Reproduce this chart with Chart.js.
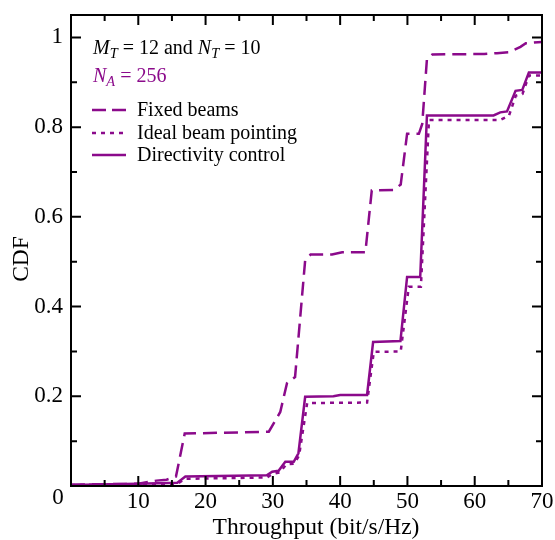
<!DOCTYPE html>
<html>
<head>
<meta charset="utf-8">
<script src="https://cdn.jsdelivr.net/npm/chart.js@4"></script>
<style>
  body { margin: 0; background: #fff; }
  canvas { display: block; }
</style>
</head>
<body>
<canvas id="cdfChart" width="555" height="540"></canvas>
<script>
// values
var fixedX = [0, 10, 12.7, 14.2, 15.6, 16.9, 29.4, 31.1, 32.1, 33.3, 34.8, 35.6, 38.8, 40.3, 43.75, 44.7, 48.0, 49.0, 49.95, 51.7, 52.2, 52.9, 53.7, 61.4, 63.3, 65.1, 66.8, 67.6, 70];
var fixedY = [0.003, 0.005, 0.012, 0.014, 0.021, 0.117, 0.121, 0.165, 0.229, 0.243, 0.503, 0.516, 0.516, 0.521, 0.521, 0.659, 0.660, 0.672, 0.785, 0.785, 0.807, 0.952, 0.962, 0.963, 0.965, 0.967, 0.979, 0.987, 0.990];

var idealX = [0, 10, 15.8, 17, 29.1, 30, 31, 32, 33.2, 33.9, 35.1, 44.0, 45.0, 49.0, 50.2, 52.0, 53.2, 63.8, 65.1, 66.1, 67.1, 68.05, 70];
var idealY = [0.002, 0.004, 0.005, 0.016, 0.019, 0.027, 0.030, 0.048, 0.050, 0.068, 0.185, 0.186, 0.299, 0.300, 0.444, 0.444, 0.816, 0.816, 0.826, 0.870, 0.874, 0.915, 0.915];

var directX = [0, 10, 15.8, 17, 29.1, 29.9, 30.85, 31.85, 33.1, 33.8, 34.8, 39.0, 40.0, 44.0, 44.9, 48.96, 49.95, 51.9, 52.9, 62.8, 63.8, 64.8, 66.07, 67.07, 68.05, 70];
var directY = [0.002, 0.005, 0.007, 0.021, 0.024, 0.032, 0.034, 0.054, 0.054, 0.073, 0.199, 0.200, 0.203, 0.203, 0.321, 0.323, 0.466, 0.466, 0.826, 0.826, 0.833, 0.835, 0.881, 0.883, 0.922, 0.922];

var seriesNames = ["Fixed beams", "Ideal beam pointing", "Directivity control"];
var xTicks = [0, 10, 20, 30, 40, 50, 60, 70];
var yTicks = [0.2, 0.4, 0.6, 0.8, 1];

var purple = "#8b0a8b";
var serif = "'Liberation Serif', 'Times New Roman', serif";

function toPoints(xs, ys) {
    var pts = [];
    for (var i = 0; i < xs.length; i++) pts.push({ x: xs[i], y: ys[i] });
    return pts;
}

// draws a run of text pieces, some italic / subscript
function drawRuns(ctx, x, y, runs, size, color) {
    ctx.fillStyle = color;
    ctx.textBaseline = "alphabetic";
    ctx.textAlign = "left";
    runs.forEach(function (r) {
        var s = r.sub ? size * 0.72 : size;
        ctx.font = (r.it ? "italic " : "") + s + "px " + serif;
        ctx.fillText(r.t, x, y + (r.sub ? size * 0.22 : 0));
        x += ctx.measureText(r.t).width;
    });
}

var framePlugin = {
    id: "frame",
    afterDraw: function (chart) {
        var ctx = chart.ctx;
        var a = chart.chartArea;
        var xs = chart.scales.x, ys = chart.scales.y;
        ctx.save();
        ctx.strokeStyle = "#000";
        ctx.lineWidth = 2;
        ctx.setLineDash([]);
        ctx.strokeRect(a.left, a.top, a.right - a.left, a.bottom - a.top);

        // inward ticks on all four sides
        ctx.beginPath();
        for (var v = 0; v <= 70; v += 5) {
            var px = xs.getPixelForValue(v);
            var len = (v % 10 === 0) ? 10 : 6;
            ctx.moveTo(px, a.bottom); ctx.lineTo(px, a.bottom - len);
            ctx.moveTo(px, a.top); ctx.lineTo(px, a.top + len);
        }
        for (var k = 1; k <= 10; k++) {
            var py = ys.getPixelForValue(k / 10);
            var l2 = (k % 2 === 0) ? 10 : 6;
            ctx.moveTo(a.left, py); ctx.lineTo(a.left + l2, py);
            ctx.moveTo(a.right, py); ctx.lineTo(a.right - l2, py);
        }
        ctx.stroke();

        // x "0" label sits left of the corner
        ctx.fillStyle = "#000";
        ctx.font = "23px " + serif;
        ctx.textAlign = "center";
        ctx.textBaseline = "middle";
        ctx.fillText("0", a.left - 13, 498);

        // axis titles
        ctx.font = "23.5px " + serif;
        ctx.textBaseline = "alphabetic";
        ctx.fillText("Throughput (bit/s/Hz)", 316, 534);
        ctx.save();
        ctx.translate(28, 259);
        ctx.rotate(-Math.PI / 2);
        ctx.fillText("CDF", 0, 0);
        ctx.restore();

        // annotations
        drawRuns(ctx, 93, 54, [
            { t: "M", it: true }, { t: "T", it: true, sub: true }, { t: " = 12 and " },
            { t: "N", it: true }, { t: "T", it: true, sub: true }, { t: " = 10" }
        ], 20, "#000");
        drawRuns(ctx, 93, 82, [
            { t: "N", it: true }, { t: "A", it: true, sub: true }, { t: " = 256" }
        ], 20, purple);

        // legend
        var dashes = [[14, 6], [4, 5], []];
        var rows = [110, 133, 155];
        ctx.strokeStyle = purple;
        ctx.lineWidth = 2.5;
        for (var i = 0; i < 3; i++) {
            ctx.setLineDash(dashes[i]);
            ctx.beginPath();
            ctx.moveTo(92, rows[i]);
            ctx.lineTo(126, rows[i]);
            ctx.stroke();
            ctx.setLineDash([]);
            ctx.fillStyle = "#000";
            ctx.font = "20px " + serif;
            ctx.textAlign = "left";
            ctx.textBaseline = "middle";
            ctx.fillText(seriesNames[i], 137, rows[i] + 1);
        }
        ctx.restore();
    }
};

var ctx = document.getElementById("cdfChart").getContext("2d");
new Chart(ctx, {
    type: "scatter",
    data: {
        datasets: [{
            label: seriesNames[0],
            data: toPoints(fixedX, fixedY),
            showLine: true,
            borderColor: purple,
            borderWidth: 2.5,
            borderDash: [14, 7],
            pointRadius: 0,
            tension: 0
        }, {
            label: seriesNames[1],
            data: toPoints(idealX, idealY),
            showLine: true,
            borderColor: purple,
            borderWidth: 2.5,
            borderDash: [4, 5],
            pointRadius: 0,
            tension: 0
        }, {
            label: seriesNames[2],
            data: toPoints(directX, directY),
            showLine: true,
            borderColor: purple,
            borderWidth: 2.5,
            pointRadius: 0,
            tension: 0
        }]
    },
    options: {
        responsive: false,
        animation: false,
        layout: { padding: { left: 0, right: 13, top: 15, bottom: 0 } },
        plugins: { legend: { display: false }, tooltip: { enabled: false } },
        scales: {
            x: {
                type: "linear",
                min: 0,
                max: 70,
                grid: { display: false, drawTicks: false },
                border: { display: false },
                afterFit: function (s) {
                    s.height = 54;
                    s.paddingLeft = 0;
                    s.paddingRight = 0;
                },
                afterBuildTicks: function (s) {
                    s.ticks = xTicks.map(function (v) { return { value: v }; });
                },
                ticks: {
                    color: "#000",
                    font: { family: serif, size: 23 },
                    padding: 2,
                    maxRotation: 0,
                    callback: function (v) { return v === 0 ? "" : String(v); }
                }
            },
            y: {
                min: 0,
                max: 1.05,
                grid: { display: false, drawTicks: false },
                border: { display: false },
                afterFit: function (s) {
                    s.width = 71;
                    s.paddingTop = 0;
                    s.paddingBottom = 0;
                },
                afterBuildTicks: function (s) {
                    s.ticks = yTicks.map(function (v) { return { value: v }; });
                },
                ticks: {
                    color: "#000",
                    font: { family: serif, size: 23 },
                    padding: 8,
                    callback: function (v) { return String(Math.round(v * 10) / 10); }
                }
            }
        }
    },
    plugins: [framePlugin]
});
</script>
</body>
</html>
